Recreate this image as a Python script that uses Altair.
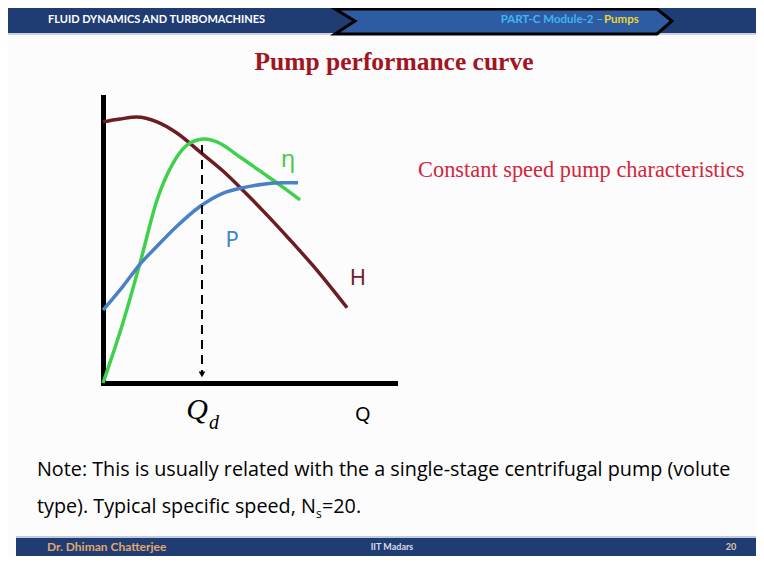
import altair as alt
import pandas as pd

# ---------------- data ----------------
# Flow rate Q and curve value in arbitrary units (both axes 0..10)
H_Q = [0, 0.58, 1.16, 1.85, 2.53, 3.32, 4.11, 4.79, 5.62, 6.40, 7.33, 8.36]
H_V = [9.13, 9.23, 9.30, 9.13, 8.74, 8.08, 7.41, 6.74, 5.87, 5.01, 3.94, 2.63]

ETA_Q = [0, 0.68, 1.27, 1.85, 2.40, 2.98, 3.49, 3.90, 4.69, 5.48, 6.16, 6.75]
ETA_V = [0, 2.10, 4.20, 6.40, 7.69, 8.39, 8.53, 8.43, 7.90, 7.34, 6.85, 6.40]

P_Q = [0, 0.69, 1.27, 1.84, 2.52, 3.32, 4.12, 4.80, 5.49, 6.17, 6.68]
P_V = [2.55, 3.39, 4.16, 4.77, 5.47, 6.17, 6.64, 6.83, 6.95, 7.00, 7.00]

CURVE_NAMES = ["H", "η", "P"]
CURVE_COLORS = ["#6e1c24", "#3fd04c", "#4a80c5"]

QD = 3.39          # design flow rate
QD_TOP = 8.32      # top of the dashed design line

# label anchors (Q, value)
LABELS = {"η": (6.34, 7.80), "P": (4.42, 5.00), "H": (8.73, 3.67), "Q": (8.90, -1.12)}

TITLE = "Pump performance curve"
SUBTITLE = "Constant speed pump characteristics"
HEADER_LEFT = "FLUID DYNAMICS AND TURBOMACHINES"
HEADER_RIGHT_A = "PART-C Module-2 – "
HEADER_RIGHT_B = "Pumps"
FOOTER_LEFT = "Dr.  Dhiman Chatterjee"
FOOTER_MID = "IIT Madars"
FOOTER_RIGHT = "20"
NOTE_1 = "Note: This is usually related with the a single-stage centrifugal pump (volute"
NOTE_2A = "type). Typical specific speed, N"
NOTE_2B = "s"
NOTE_2C = "=20."

# ---------------- layout helpers ----------------
W, H = 292, 286
OX, OY = 103, 97  # page position of the plot area's top-left corner


def px(x):
    return x - OX


def py(y):
    return y - OY


one = pd.DataFrame({"k": [0]})

curves = pd.concat(
    [
        pd.DataFrame({"Q": H_Q, "v": H_V, "curve": CURVE_NAMES[0]}),
        pd.DataFrame({"Q": ETA_Q, "v": ETA_V, "curve": CURVE_NAMES[1]}),
        pd.DataFrame({"Q": P_Q, "v": P_V, "curve": CURVE_NAMES[2]}),
    ],
    ignore_index=True,
)

xs = alt.Scale(domain=[0, 10], nice=False, zero=False)
ys = alt.Scale(domain=[0, 10], nice=False, zero=False)
axis_style = dict(title=None, labels=False, ticks=False, grid=False,
                  domainColor="black", domainWidth=5, domainCap="square")

lines = alt.Chart(curves).mark_line(strokeWidth=3.5, interpolate="monotone").encode(
    x=alt.X("Q:Q", scale=xs, axis=alt.Axis(**axis_style)),
    y=alt.Y("v:Q", scale=ys, axis=alt.Axis(**axis_style)),
    color=alt.Color("curve:N", scale=alt.Scale(domain=CURVE_NAMES, range=CURVE_COLORS), legend=None),
)

dash = alt.Chart(pd.DataFrame({"Q": [QD], "v": [QD_TOP], "v2": [0.3]})).mark_rule(
    strokeDash=[9, 6], strokeWidth=2, color="black"
).encode(x="Q:Q", y="v:Q", y2="v2:Q")

arrow = alt.Chart(pd.DataFrame({"Q": [QD], "v": [0.3]})).mark_point(
    shape="triangle-down", filled=True, color="black", size=45, opacity=1
).encode(x="Q:Q", y="v:Q")


def label(key, color, size, font="Noto Sans", style="normal", weight="normal"):
    q, v = LABELS[key]
    return alt.Chart(pd.DataFrame({"Q": [q], "v": [v], "t": [key]})).mark_text(
        color=color, fontSize=size, font=font, fontStyle=style, fontWeight=weight,
        align="center", baseline="middle"
    ).encode(x="Q:Q", y="v:Q", text="t:N")


lab_eta = label("η", "#46c84e", 24)
lab_p = label("P", "#3f85c8", 22)
lab_h = label("H", "#6e1c24", 22)
lab_q = label("Q", "black", 20)

qd_main = alt.Chart(pd.DataFrame({"Q": [QD], "v": [-0.94]})).mark_text(
    text="Q", font="Liberation Serif", fontStyle="italic", fontSize=30, color="black",
    align="center", baseline="middle", dx=-5
).encode(x="Q:Q", y="v:Q")
qd_sub = alt.Chart(pd.DataFrame({"Q": [QD], "v": [-1.40]})).mark_text(
    text="d", font="Liberation Serif", fontStyle="italic", fontSize=20, color="black",
    align="center", baseline="middle", dx=12
).encode(x="Q:Q", y="v:Q")

# ---------------- slide decorations ----------------
def rect(x1, x2, y1, y2, color):
    return alt.Chart(one).mark_rect(color=color).encode(
        x=alt.value(px(x1)), x2=alt.value(px(x2)), y=alt.value(py(y1)), y2=alt.value(py(y2))
    )


def text(t, x, y, size, color, font="Lato", weight="normal", style="normal", align="left"):
    return alt.Chart(one).mark_text(
        text=t, fontSize=size, color=color, font=font, fontWeight=weight, fontStyle=style,
        align=align, baseline="middle"
    ).encode(x=alt.value(px(x)), y=alt.value(py(y)))


header = rect(0, 780, 0, 33, "#1f3d72")
header_line = rect(0, 780, 33, 35, "#c9d3e3")
chevron = alt.Chart(one).mark_point(
    shape="M-168,-12L-148,0L-168,13L154,13L169,0L154,-12Z", size=4, filled=True,
    fill="#2e5ca2", stroke="black", strokeWidth=3, opacity=1
).encode(x=alt.value(px(503)), y=alt.value(py(21)))
h_left = text(HEADER_LEFT, 48, 20, 11, "white", weight="bold")
h_right_a = text(HEADER_RIGHT_A, 603, 20, 11.5, "#41b4f0", weight="bold", align="right")
h_right_b = text(HEADER_RIGHT_B, 604, 20, 11.5, "#f2d32a", weight="bold")

footer = rect(16, 780, 538, 600, "#1f3d72")
footer_line = rect(16, 780, 536, 538, "#c0cbdc")
f_left = text(FOOTER_LEFT, 47, 547, 12, "#e2a86c", weight="bold")
f_mid = text(FOOTER_MID, 392, 547, 9, "#d9dde8", weight="bold", align="center")
f_right = text(FOOTER_RIGHT, 731, 547, 9, "#e2c8a8", weight="bold", align="center")

title = text(TITLE, 394, 62, 25.5, "#a3141e", font="Liberation Serif", weight="bold", align="center")
subtitle = text(SUBTITLE, 418, 170, 22.4, "#d6243a", font="Liberation Serif")
note1 = text(NOTE_1, 37, 470, 19.75, "black", font="Open Sans")
note2a = text(NOTE_2A, 37, 507, 19.75, "black", font="Open Sans")
note2b = text(NOTE_2B, 316, 514, 12, "black", font="Open Sans")
note2c = text(NOTE_2C, 322, 507, 19.75, "black", font="Open Sans")

chart = alt.layer(
    header, header_line, chevron, h_left, h_right_a, h_right_b,
    footer, footer_line, f_left, f_mid, f_right,
    title, subtitle, note1, note2a, note2b, note2c,
    lines, dash, arrow, lab_eta, lab_p, lab_h, lab_q, qd_main, qd_sub,
).properties(
    width=W, height=H,
    padding={"left": 95, "top": 89, "right": 361, "bottom": 173},
    autosize=alt.AutoSizeParams(type="none"),
    background="#fcfcfd",
).configure_view(stroke=None)

chart.save("out.html", embed_options={"renderer": "svg", "actions": False})
